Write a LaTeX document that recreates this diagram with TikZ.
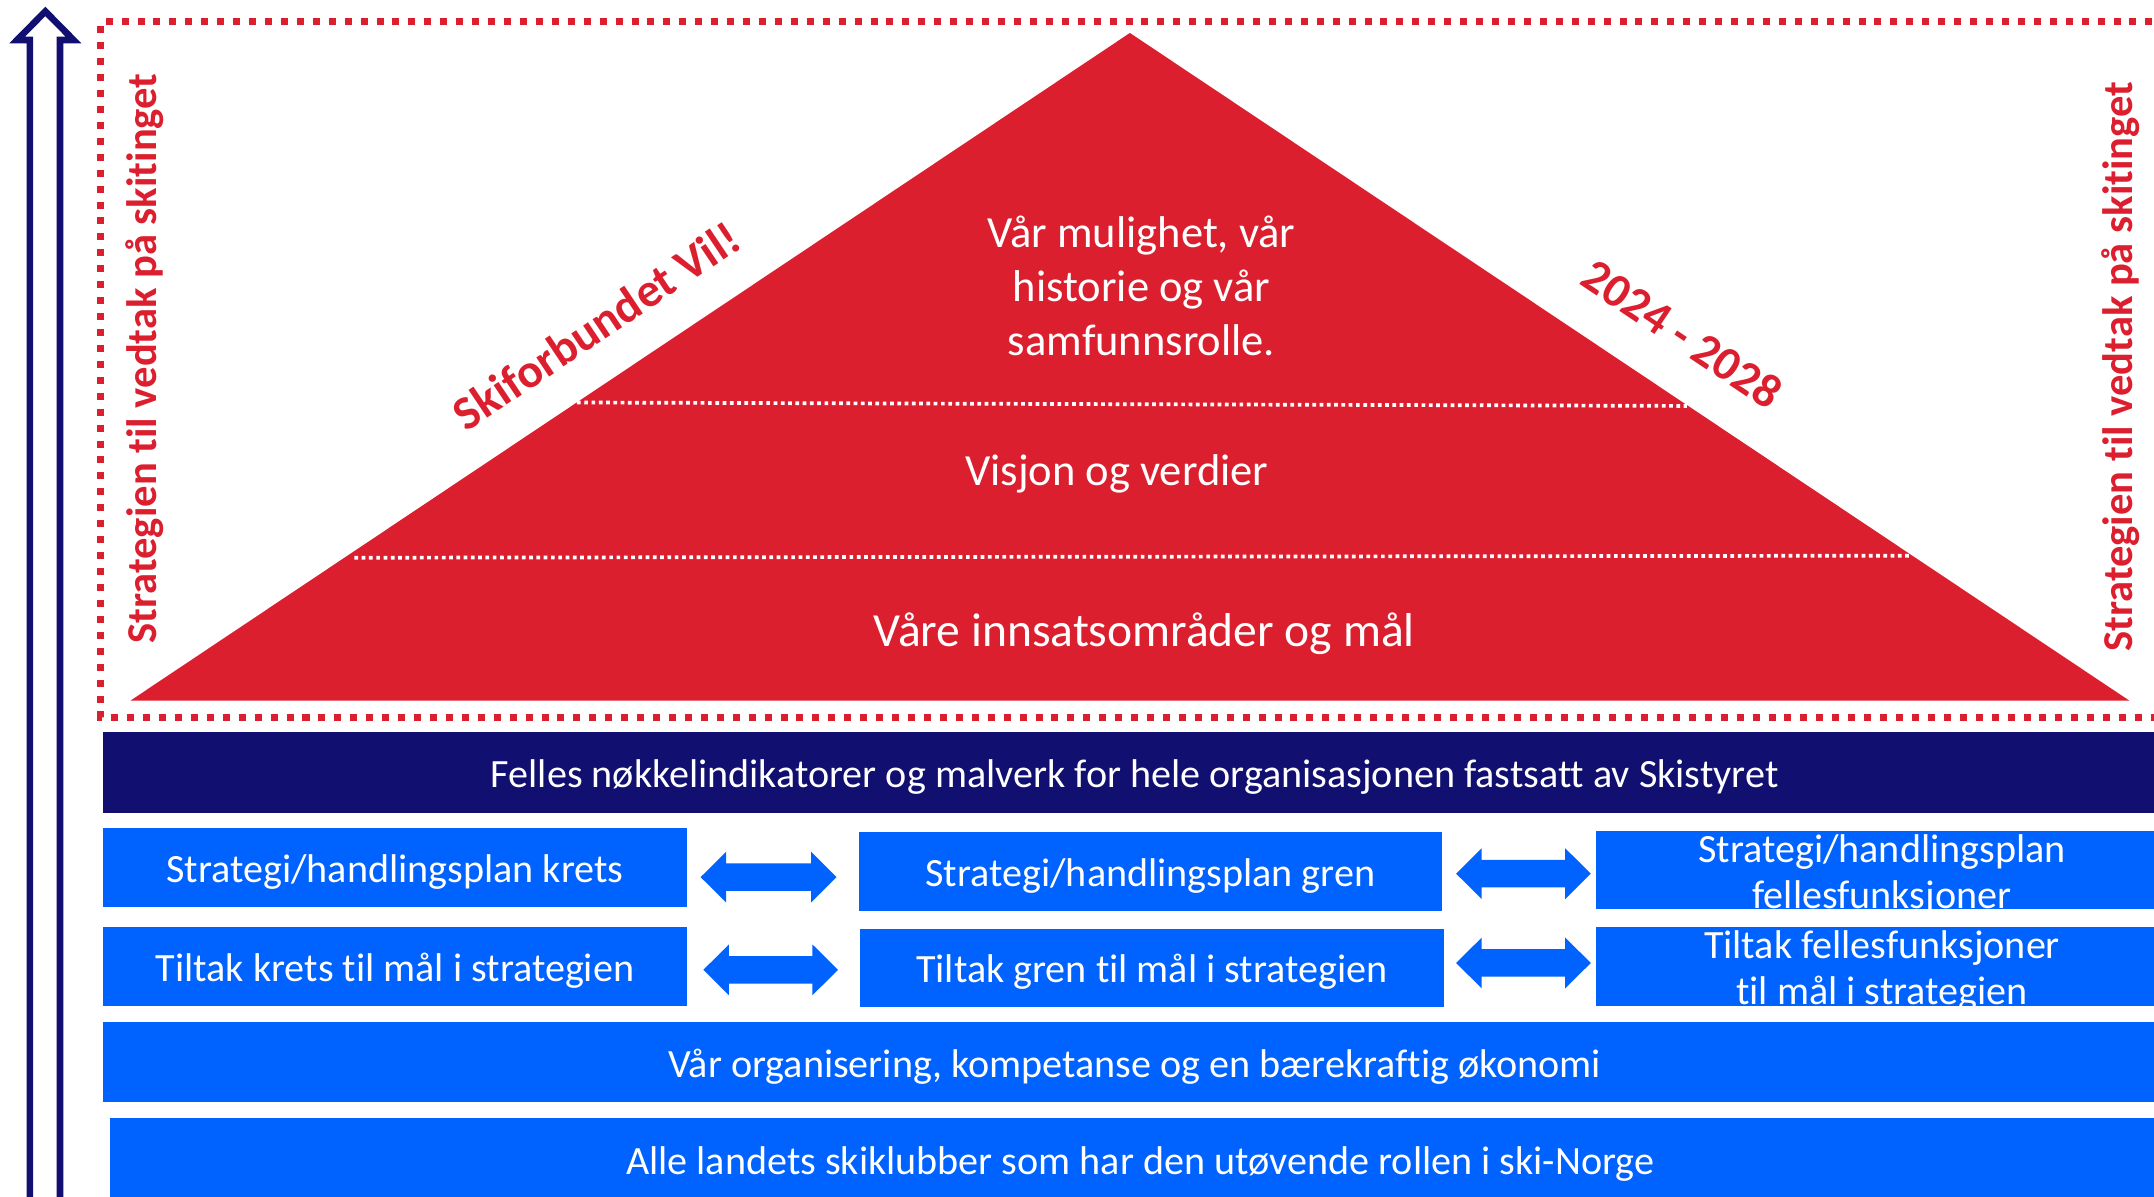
\documentclass[tikz,border=0pt]{standalone}
\usepackage{fontspec}
\setmainfont{Carlito}[Ligatures=NoCommon]
\usetikzlibrary{calc}
\definecolor{skired}{RGB}{220,31,46}
\definecolor{skinavy}{RGB}{17,15,112}
\definecolor{skiblue}{RGB}{0,98,255}
\newcommand\dblarr[2]{\fill[dbl] #1 -- ++(18.6,-18.5) -- ++(0,8.5) -- ++(#2,0) -- ++(0,-8.5) -- ++(18.6,18.5) -- ++(-18.6,18.5) -- ++(0,-8.5) -- ++(-#2,0) -- ++(0,8.5) -- cycle;}
\begin{document}
\begin{tikzpicture}[x=0.5pt,y=-0.5pt,
  blk/.style={fill=skiblue, inner sep=0pt, outer sep=0pt, anchor=north west, text=white, text height=11pt, text depth=0pt, font=\fontsize{14.6}{16.5}\selectfont},
  navybox/.style={blk, fill=skinavy},
  txt/.style={text=white, inner sep=0pt, align=center, font=\fontsize{14.6}{16.6}\selectfont},
  tri/.style={text=white, inner sep=0pt, align=center, font=\fontsize{16.2}{19.6}\selectfont},
  vlab/.style={text=skired, inner sep=0pt, rotate=90, anchor=base, font=\bfseries\fontsize{15.5}{18}\selectfont},
  slab/.style={text=skired, inner sep=0pt, font=\bfseries\fontsize{17.3}{20}\selectfont},
  dbl/.style={fill=skiblue},
  wdots/.style={draw=white, line width=1.35pt, dash pattern=on 1.35pt off 1.3pt},
  rdots/.style={draw=skired, line width=2.55pt, dash pattern=on 2.55pt off 3.25pt},
  hollow/.style={draw=skinavy, fill=white, line width=2.4pt, line join=miter}
]
\useasboundingbox (0,0) rectangle (1568,871);
% hollow upward arrow
\draw[hollow] (33,8.3) -- (53.5,29.1) -- (43.7,29.1) -- (43.7,885) -- (21.8,885) -- (21.8,29.1) -- (12.5,29.1) -- cycle;
% red dotted frame
\draw[rdots] (1590,16) -- (73.5,16) -- (73.5,522) -- (1590,522);
% pyramid
\fill[skired] (95,510) -- (822.5,24) -- (1550,510) -- cycle;
\draw[wdots] (420,293) -- (1228,295.5);
\draw[wdots] (258,406) -- (1390,404.5);
\node[tri] (t1) at (831,208) {Vår mulighet, vår\\historie og vår\\samfunnsrolle.};
\node[tri] (t2) at (813,345) {Visjon og verdier};
\node[tri, font=\fontsize{17.3}{20}\selectfont] (t3) at (833,461) {Våre innsatsområder og mål};
\node[slab, rotate=33.8] (sv) at (434,237) {Skiforbundet Vil!};
\node[slab, rotate=-33.8] (yr) at (1225,243) {2024 - 2028};
\node[vlab] (vl) at (114,261) {Strategien til vedtak på skitinget};
\node[vlab] (vr) at (1552,267) {Strategien til vedtak på skitinget};
% boxes
\node[navybox, minimum width=751pt, minimum height=29.5pt] (nk) at (75,533) {Felles nøkkelindikatorer og malverk for hele organisasjonen fastsatt av Skistyret};
\node[blk, minimum width=212.5pt, minimum height=28.5pt] (k1) at (75,603) {Strategi/handlingsplan krets};
\node[blk, minimum width=212.5pt, minimum height=28.5pt] (g1) at (625,606) {Strategi/handlingsplan gren};
\node[blk, minimum width=208pt, minimum height=28.5pt] (f1) at (1162,605) {};
\node[txt] (f1t) at (1370,637) {Strategi/handlingsplan\\fellesfunksjoner};
\node[blk, minimum width=212.5pt, minimum height=28.5pt] (k2) at (75,675) {Tiltak krets til mål i strategien};
\node[blk, minimum width=212.5pt, minimum height=28.5pt] (g2) at (626,676) {Tiltak gren til mål i strategien};
\node[blk, minimum width=208pt, minimum height=28.5pt] (f2) at (1162,675) {};
\node[txt] (f2t) at (1370,707) {Tiltak fellesfunksjoner\\til mål i strategien};
\node[blk, minimum width=751pt, minimum height=29pt] (org) at (75,744) {Vår organisering, kompetanse og en bærekraftig økonomi};
\node[blk, minimum width=750pt, minimum height=30pt] (alle) at (80,814) {Alle landets skiklubber som har den utøvende rollen i ski-Norge};
% double arrows
\dblarr{($(k1.east)+(10,7)$)}{61.8}
\dblarr{($(g1.east)+(10,1.5)$)}{60.8}
\dblarr{($(k2.east)+(12,2.5)$)}{60.8}
\dblarr{($(g2.east)+(9,-3.5)$)}{60.8}
\end{tikzpicture}
\end{document}
